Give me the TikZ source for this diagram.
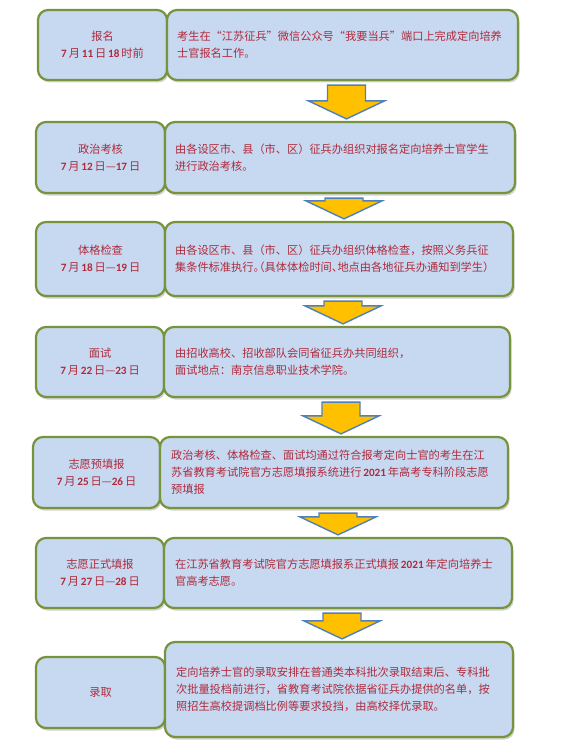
\documentclass[tikz,border=0pt]{standalone}
\usepackage{fontspec}
\setmainfont{Noto Sans CJK SC}
\newfontfamily\latinf{Carlito}
\newfontfamily\fwq[RawFeature=+fwid]{Noto Sans CJK SC}
\newfontfamily\hlt[RawFeature=+halt]{Noto Sans CJK SC}
\usetikzlibrary{shadows,calc}
\definecolor{boxfill}{HTML}{C6D9F1}
\definecolor{boxline}{HTML}{77933C}
\definecolor{txt}{HTML}{B02A3C}
\definecolor{arrfill}{HTML}{FFC000}
\definecolor{arrline}{HTML}{4F81BD}
\newcommand\nm[1]{{\latinf\bfseries #1}}
\newcommand\fq[1]{{\fwq #1}}
\newcommand\hp[1]{{\hlt #1}}
\tikzset{
  stagebox/.style={draw=boxline, line width=2.2pt, fill=boxfill, rounded corners=10pt,
    drop shadow={shadow xshift=1.5pt, shadow yshift=-2.5pt, opacity=0.35}, inner sep=0pt},
  lefttext/.style={text=txt, align=center, font=\fontsize{11.2}{17}\selectfont},
  righttext/.style={text=txt, align=left, anchor=west, inner sep=0pt, font=\fontsize{11.2}{17}\selectfont},
  blockarrow/.style={fill=arrfill, draw=arrline, line width=1.4pt, line join=miter}
}
\newcommand\blockarr[2]{%
  \draw[blockarrow] let \p1=($(#1.south)+(4,0)$), \p2=(#2.north) in
    (\x1-19pt,\y1-4pt) -- (\x1+19pt,\y1-4pt) -- (\x1+19pt,\y2+20pt) -- (\x1+38pt,\y2+20pt)
    -- (\x1,\y2+2pt) -- (\x1-38pt,\y2+20pt) -- (\x1-19pt,\y2+20pt) -- cycle;}
\begin{document}
\begin{tikzpicture}[x=1pt,y=-1pt]
\fill[white] (0,0) rectangle (572,749);
\useasboundingbox (0,0) rectangle (572,749);

% row 1
\node[stagebox, minimum width=129pt, minimum height=70pt] (l1) at (102.5,45) {};
\node[stagebox, minimum width=351pt, minimum height=70pt] (r1) at (342.5,45) {};
\node[lefttext] (lt1) at (l1) {报名\\\nm{7}\,月\,\nm{11}\,日\,\nm{18}\,时前};
\node[righttext] (rt1) at ($(r1.west)+(11,0)$) {考生在\fq{“}江苏征兵\fq{”}微信公众号\fq{“}我要当兵\fq{”}端口上完成定向培养\\士官报名工作。};

% row 2
\node[stagebox, minimum width=129pt, minimum height=71pt] (l2) at (100.5,157.5) {};
\node[stagebox, minimum width=350pt, minimum height=71pt] (r2) at (340,157.5) {};
\node[lefttext] (lt2) at (l2) {政治考核\\\nm{7}\,月\,\nm{12}\,日—\nm{17}\,日};
\node[righttext] (rt2) at ($(r2.west)+(11,0)$) {由各设区市、县（市、区）征兵办组织对报名定向培养士官学生\\进行政治考核。};

% row 3
\node[stagebox, minimum width=129pt, minimum height=74pt] (l3) at (100.5,259) {};
\node[stagebox, minimum width=348pt, minimum height=74pt] (r3) at (339,259) {};
\node[lefttext] (lt3) at (l3) {体格检查\\\nm{7}\,月\,\nm{18}\,日—\nm{19}\,日};
\node[righttext] (rt3) at ($(r3.west)+(11,0)$) {由各设区市、县（市、区）征兵办组织体格检查，按照义务兵征\\集条件标准执行\hp{。（}具体体检时间\hp{、}地点由各地征兵办通知到学生）};

% row 4
\node[stagebox, minimum width=128pt, minimum height=70pt] (l4) at (100,362) {};
\node[stagebox, minimum width=346pt, minimum height=70pt] (r4) at (337,362) {};
\node[lefttext] (lt4) at (l4) {面试\\\nm{7}\,月\,\nm{22}\,日—\nm{23}\,日};
\node[righttext] (rt4) at ($(r4.west)+(12,0)$) {由招收高校、招收部队会同省征兵办共同组织，\\面试地点：南京信息职业技术学院。};

% row 5
\node[stagebox, minimum width=127pt, minimum height=71pt] (l5) at (96.5,472.5) {};
\node[stagebox, minimum width=348pt, minimum height=71pt] (r5) at (334,472.5) {};
\node[lefttext] (lt5) at (l5) {志愿预填报\\\nm{7}\,月\,\nm{25}\,日—\nm{26}\,日};
\node[righttext] (rt5) at ($(r5.west)+(12,0)$) {政治考核、体格检查、面试均通过符合报考定向士官的考生在江\\苏省教育考试院官方志愿填报系统进行\,\nm{2021}\,年高考专科阶段志愿\\预填报};

% row 6
\node[stagebox, minimum width=128pt, minimum height=70pt] (l6) at (100,573) {};
\node[stagebox, minimum width=348pt, minimum height=70pt] (r6) at (338,573) {};
\node[lefttext] (lt6) at (l6) {志愿正式填报\\\nm{7}\,月\,\nm{27}\,日—\nm{28}\,日};
\node[righttext] (rt6) at ($(r6.west)+(12,0)$) {在江苏省教育考试院官方志愿填报系正式填报\,\nm{2021}\,年定向培养士\\官高考志愿。};

% row 7
\node[stagebox, minimum width=129pt, minimum height=71pt] (l7) at (100.5,692.5) {};
\node[stagebox, minimum width=348pt, minimum height=95pt] (r7) at (339,689.5) {};
\node[lefttext] (lt7) at (l7) {录取};
\node[righttext] (rt7) at ($(r7.west)+(12,0)$) {定向培养士官的录取安排在普通类本科批次录取结束后、专科批\\次批量投档前进行，省教育考试院依据省征兵办提供的名单，按\\照招生高校提调档比例等要求投挡，由高校择优录取。};

% arrows
\blockarr{r1}{r2}
\blockarr{r2}{r3}
\blockarr{r3}{r4}
\blockarr{r4}{r5}
\blockarr{r5}{r6}
\blockarr{r6}{r7}
\end{tikzpicture}
\end{document}
